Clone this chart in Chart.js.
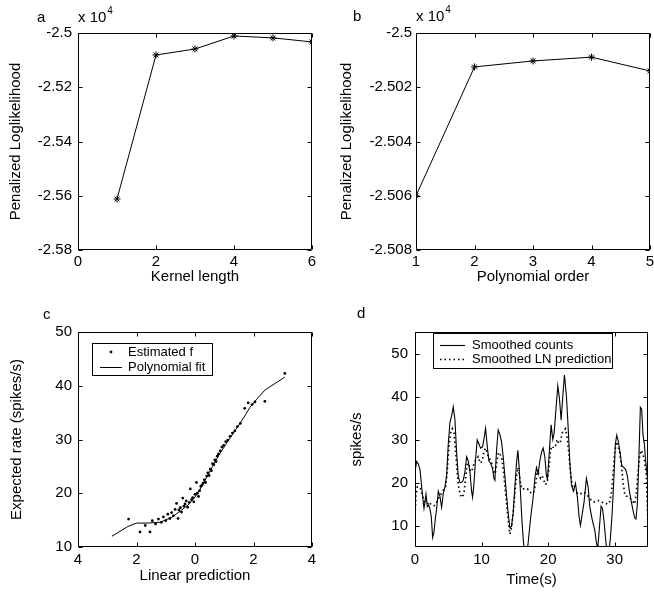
<!DOCTYPE html>
<html>
<head>
<meta charset="utf-8">
<script src="https://cdn.jsdelivr.net/npm/chart.js@4.4.0/dist/chart.umd.min.js"></script>
<style>
  html, body { margin: 0; padding: 0; background: #fff; overflow: hidden; }
  body { width: 654px; height: 597px; position: relative; }
  canvas { position: absolute; }
</style>
</head>
<body>
<canvas id="chartA" width="327" height="297" style="left:0;top:0"></canvas>
<canvas id="chartB" width="333" height="297" style="left:327px;top:0"></canvas>
<canvas id="chartC" width="327" height="300" style="left:0;top:297px"></canvas>
<canvas id="chartD" width="333" height="300" style="left:327px;top:297px"></canvas>
<script>
// a: kernel length
const kernelLength = [1, 2, 3, 4, 5, 6];
const kernelLogLik = [-2.5612, -2.5081, -2.5059, -2.5011, -2.5018, -2.5033];
const kernelXTicks = [0, 2, 4, 6];
const kernelYTicks = [-2.58, -2.56, -2.54, -2.52, -2.5];

// b: polynomial order
const polyOrder = [1, 2, 3, 4, 5];
const polyLogLik = [-2.5060, -2.50125, -2.50103, -2.50089, -2.5014];
const polyXTicks = [1, 2, 3, 4, 5];
const polyYTicks = [-2.508, -2.506, -2.504, -2.502, -2.5];

// c: estimated nonlinearity
const linPred = [-2.27, -1.88, -1.70, -1.54, -1.46, -1.35, -1.25, -1.15, -1.08, -1.00,
  -0.93, -0.86, -0.80, -0.74, -0.68, -0.63, -0.58, -0.55, -0.50, -0.46,
  -0.42, -0.38, -0.34, -0.30, -0.25, -0.20, -0.16, -0.12, -0.08, -0.04,
  0.00, 0.05, 0.08, 0.12, 0.16, 0.20, 0.24, 0.28, 0.32, 0.36,
  0.40, 0.44, 0.48, 0.52, 0.56, 0.60, 0.64, 0.68, 0.72, 0.76,
  0.80, 0.86, 0.92, 0.98, 1.05, 1.12, 1.20, 1.28, 1.36, 1.45,
  1.55, 1.70, 1.82, 1.95, 2.05, 2.39, 3.07];
const estRate = [15.2, 12.8, 14.0, 12.8, 14.9, 14.3, 15.2, 14.6, 15.6, 14.9,
  16.1, 15.3, 16.4, 15.8, 17.0, 18.1, 15.3, 16.9, 17.3, 16.5,
  19.1, 17.6, 18.0, 18.6, 17.4, 18.3, 20.8, 18.8, 19.2, 18.4,
  19.8, 22.0, 20.0, 19.4, 20.5, 21.3, 21.5, 21.9, 22.5, 22.0,
  23.2, 23.8, 23.3, 24.5, 24.2, 25.5, 25.3, 26.2, 25.9, 26.9,
  27.3, 27.9, 28.6, 28.9, 29.6, 29.9, 30.6, 31.2, 31.6, 32.4,
  33.0, 35.8, 36.8, 36.5, 37.0, 37.1, 42.3];
const fitX = [-2.84, -2.3, -2.0, -1.65, -1.2, -0.8, -0.5, -0.2, 0, 0.2, 0.4, 0.6,
  0.85, 1.08, 1.31, 1.54, 1.75, 1.88, 2.11, 2.39, 2.7, 3.07];
const fitY = [12.0, 13.8, 14.45, 14.45, 14.6, 15.5, 16.7, 18.0, 19.3, 21.0, 23.0, 25.0,
  27.4, 29.3, 31.2, 33.0, 34.8, 36.0, 37.5, 39.2, 40.3, 41.6];
const linPredTicks = [-4, -2, 0, 2, 4];
const rateTicks = [10, 20, 30, 40, 50];

// d: smoothed counts vs LN prediction
const countT = [0, 0.25, 0.5, 0.75, 1.0, 1.2, 1.35, 1.5, 1.65, 1.85, 2.05, 2.25, 2.45, 2.65, 2.85,
  3.05, 3.25, 3.5, 3.75, 4.0, 4.25, 4.5, 4.75, 5.0, 5.25, 5.5, 5.75, 6.0, 6.25, 6.5,
  6.75, 7.0, 7.25, 7.5, 7.75, 8.0, 8.25, 8.5, 8.65, 8.85, 9.1, 9.35, 9.6, 9.85, 10.15,
  10.4, 10.6, 10.85, 11.1, 11.35, 11.65, 11.85, 12.0, 12.25, 12.5, 12.75, 13.0, 13.25, 13.5, 13.75,
  14.0, 14.25, 14.5, 14.75, 15.0, 15.25, 15.45, 15.65, 15.85, 16.05, 16.25, 16.5, 16.75, 17.0, 17.25,
  17.5, 17.75, 18.0, 18.25, 18.5, 18.75, 19.0, 19.25, 19.5, 19.75, 19.9, 20.15, 20.45, 20.7, 20.9,
  21.15, 21.45, 21.7, 21.95, 22.2, 22.45, 22.75, 23.0, 23.25, 23.5, 23.8, 24.1, 24.4, 24.65, 24.85,
  25.1, 25.4, 25.75, 26.0, 26.25, 26.6, 27.0, 27.25, 27.45, 27.65, 27.95, 28.15, 28.4, 28.65, 28.85,
  29.1, 29.35, 29.6, 29.85, 30.1, 30.3, 30.55, 30.8, 31.05, 31.35, 31.65, 31.9, 32.2, 32.5, 32.75,
  33.0, 33.2, 33.4, 33.6, 33.85, 34.05, 34.25, 34.45, 34.65, 34.85, 35.0];
const countV = [22.5, 24.9, 24.3, 23.0, 19.0, 16.0, 14.0, 15.5, 17.3, 14.4, 14.8, 13.8, 12.0, 7.2, 8.5,
  11.5, 14.0, 18.0, 16.8, 14.2, 17.5, 19.0, 21.5, 29.0, 34.0, 35.5, 37.6, 34.6, 27.0, 21.5,
  20.0, 20.0, 20.5, 22.5, 26.0, 25.0, 22.5, 18.0, 16.5, 19.5, 25.5, 29.9, 29.0, 28.0, 28.3,
  30.5, 32.6, 28.5, 25.0, 24.5, 23.3, 21.0, 20.5, 27.5, 32.2, 31.2, 29.5, 26.0, 21.5, 17.0,
  12.8, 9.5, 9.8, 13.0, 19.0, 24.5, 27.5, 23.5, 17.5, 11.5, 7.0, 3.0, 2.5, 6.0, 10.0,
  13.5, 16.5, 21.0, 23.5, 22.0, 25.0, 27.0, 28.0, 26.0, 21.5, 20.8, 26.5, 33.4, 30.0, 31.5,
  36.5, 42.5, 39.5, 34.5, 40.0, 45.0, 40.0, 33.0, 25.0, 19.5, 18.0, 19.8, 16.5, 12.0, 10.0,
  12.5, 15.5, 21.0, 19.0, 14.5, 11.5, 9.0, 6.0, 4.5, 8.5, 14.5, 14.0, 11.0, 6.5, 4.0,
  3.5, 7.0, 12.5, 20.0, 29.0, 31.0, 29.5, 27.0, 24.0, 23.5, 23.0, 21.5, 18.0, 15.5, 13.5,
  11.8, 11.5, 15.0, 24.0, 37.5, 37.0, 31.0, 29.0, 25.0, 22.0, 20.5];
const lnT = [0, 0.15, 0.35, 0.6, 0.85, 1.1, 1.35, 1.6, 1.85, 2.1, 2.35, 2.6, 2.85, 3.1, 3.4,
  3.7, 4.0, 4.3, 4.6, 4.85, 5.1, 5.35, 5.6, 5.85, 6.1, 6.35, 6.6, 6.85, 7.1, 7.35,
  7.6, 7.85, 8.1, 8.35, 8.6, 8.9, 9.2, 9.5, 9.8, 10.1, 10.4, 10.65, 10.9, 11.2, 11.5,
  11.8, 12.05, 12.3, 12.55, 12.8, 13.05, 13.3, 13.55, 13.8, 14.05, 14.25, 14.5, 14.75, 15.0, 15.25,
  15.5, 15.75, 16.0, 16.3, 16.6, 16.9, 17.2, 17.5, 17.8, 18.1, 18.35, 18.6, 18.85, 19.1, 19.35,
  19.6, 19.85, 20.1, 20.35, 20.6, 20.85, 21.1, 21.35, 21.6, 21.85, 22.1, 22.35, 22.6, 22.85, 23.1,
  23.35, 23.6, 23.85, 24.1, 24.4, 24.7, 25.0, 25.3, 25.6, 25.9, 26.2, 26.5, 26.8, 27.1, 27.4,
  27.7, 28.0, 28.3, 28.6, 28.9, 29.2, 29.5, 29.75, 30.0, 30.25, 30.5, 30.75, 31.0, 31.25, 31.5,
  31.75, 32.0, 32.25, 32.5, 32.75, 33.0, 33.25, 33.5, 33.75, 34.0, 34.25, 34.5, 34.75, 35.0];
const lnV = [12.5, 17.0, 19.0, 19.0, 18.5, 17.0, 15.8, 15.2, 15.0, 15.5, 15.0, 14.6, 14.6, 15.0, 15.8,
  16.8, 17.5, 18.3, 19.0, 23.0, 28.5, 31.5, 32.5, 31.5, 27.5, 22.0, 18.5, 17.0, 16.5, 17.5,
  21.0, 24.5, 24.0, 22.5, 23.0, 24.5, 25.5, 26.0, 24.5, 25.0, 27.5, 28.0, 26.5, 25.5, 24.5,
  22.5, 22.0, 25.0, 27.0, 26.5, 25.5, 22.5, 18.5, 14.5, 10.5, 8.0, 9.5, 13.0, 17.5, 21.5,
  23.5, 21.0, 18.5, 18.5, 18.5, 18.5, 17.8, 17.5, 17.5, 19.5, 22.5, 22.0, 21.0, 21.5, 20.5,
  19.5, 20.0, 23.0, 27.5, 28.5, 28.0, 28.5, 30.0, 29.0, 29.5, 31.5, 32.0, 32.5, 30.5, 27.0,
  22.5, 19.5, 18.0, 17.8, 17.5, 17.2, 17.5, 17.8, 17.5, 17.0, 16.5, 15.8, 15.5, 15.5, 15.8,
  15.8, 15.5, 15.2, 15.2, 15.0, 15.2, 17.5, 22.0, 27.0, 29.5, 28.5, 27.0, 24.0, 20.0, 17.5,
  16.8, 16.8, 16.5, 16.0, 15.5, 15.0, 17.5, 22.5, 26.5, 27.5, 26.5, 25.0, 21.5, 10.0];
const timeTicks = [0, 10, 20, 30];
const spikeTicks = [10, 20, 30, 40, 50];

const FONT = "'Liberation Sans', Arial, Helvetica, sans-serif";

function pts(xs, ys) {
  return xs.map((x, i) => ({ x: x, y: ys[i] }));
}

function axis(min, max, ticks, fmt, o) {
  return {
    type: 'linear',
    min: min,
    max: max,
    afterBuildTicks: s => { s.ticks = ticks.map(v => ({ value: v })); },
    afterFit: s => { if (s.isHorizontal()) s.height = o.size; else s.width = o.size; },
    grid: { display: false, drawTicks: false },
    border: { display: false },
    ticks: {
      color: '#000', font: { family: FONT, size: 15 }, padding: o.pad,
      autoSkip: false, maxRotation: 0, callback: fmt
    },
    title: {
      display: true, text: o.title, color: '#000',
      font: { family: FONT, size: 15 }, padding: o.titlePad
    }
  };
}

const fmtNum = v => String(Number(v.toFixed(3)));
const fmtAbs = v => String(Math.abs(v));

// box around the plot with inward ticks on all four sides
const frame = {
  id: 'frame',
  afterDatasetsDraw(chart) {
    const ctx = chart.ctx, a = chart.chartArea, x = chart.scales.x, y = chart.scales.y;
    const L = Math.round(a.left) + 0.5, R = Math.round(a.right) - 0.5;
    const T = Math.round(a.top) + 0.5, B = Math.round(a.bottom) - 0.5;
    ctx.save();
    ctx.strokeStyle = '#000';
    ctx.lineWidth = 1;
    ctx.beginPath();
    ctx.rect(L, T, R - L, B - T);
    x.ticks.forEach(t => {
      const p = Math.round(x.getPixelForValue(t.value)) + 0.5;
      ctx.moveTo(p, B); ctx.lineTo(p, B - 4);
      ctx.moveTo(p, T); ctx.lineTo(p, T + 4);
    });
    y.ticks.forEach(t => {
      const p = Math.round(y.getPixelForValue(t.value)) + 0.5;
      ctx.moveTo(L, p); ctx.lineTo(L + 4, p);
      ctx.moveTo(R, p); ctx.lineTo(R - 4, p);
    });
    ctx.stroke();
    ctx.restore();
  }
};

// panel letter and the "x 10^4" multiplier
const notes = {
  id: 'notes',
  afterDraw(chart, args, o) {
    const ctx = chart.ctx, a = chart.chartArea;
    ctx.save();
    ctx.fillStyle = '#000';
    ctx.textAlign = 'left';
    ctx.textBaseline = 'alphabetic';
    ctx.font = '15px ' + FONT;
    ctx.fillText(o.letter, o.letterX, o.letterY);
    if (o.exponent) {
      ctx.fillText('x 10', a.left, o.letterY);
      const w = ctx.measureText('x 10').width;
      ctx.font = '10px ' + FONT;
      ctx.fillText(o.exponent, a.left + w + 1, o.letterY - 8);
    }
    ctx.restore();
  }
};

// boxed legend inside the plot
const boxLegend = {
  id: 'boxLegend',
  afterDraw(chart, args, o) {
    if (!o.box) return;
    const ctx = chart.ctx, a = chart.chartArea;
    const x0 = Math.round(a.left + o.box[0]), y0 = Math.round(a.top + o.box[1]);
    const w = o.box[2], h = o.box[3];
    ctx.save();
    ctx.fillStyle = '#fff';
    ctx.fillRect(x0, y0, w, h);
    ctx.strokeStyle = '#000';
    ctx.lineWidth = 1;
    ctx.strokeRect(x0 + 0.5, y0 + 0.5, w, h);
    ctx.font = '13px ' + FONT;
    ctx.textBaseline = 'middle';
    ctx.textAlign = 'left';
    ctx.fillStyle = '#000';
    chart.data.datasets.forEach((ds, i) => {
      const cy = y0 + o.firstRow + i * o.rowGap;
      if (ds.showLine) {
        ctx.setLineDash(ds.borderDash || []);
        ctx.lineWidth = ds.borderWidth;
        ctx.beginPath();
        ctx.moveTo(x0 + o.sample[0], cy + 0.5);
        ctx.lineTo(x0 + o.sample[1], cy + 0.5);
        ctx.stroke();
        ctx.setLineDash([]);
      } else {
        ctx.beginPath();
        ctx.arc(x0 + (o.sample[0] + o.sample[1]) / 2, cy, ds.pointRadius, 0, Math.PI * 2);
        ctx.fill();
      }
      ctx.fillText(ds.label, x0 + o.textX, cy);
    });
    ctx.restore();
  }
};

Chart.register(frame, notes, boxLegend);

function base(padTop, padRight, notesOpt, legendOpt) {
  return {
    responsive: false,
    animation: false,
    devicePixelRatio: 1,
    layout: { padding: { top: padTop, right: padRight, left: 0, bottom: 0 } },
    plugins: {
      legend: { display: false },
      tooltip: { enabled: false },
      notes: notesOpt,
      boxLegend: legendOpt || {}
    }
  };
}

const starLine = {
  showLine: true, borderColor: '#000', borderWidth: 1,
  pointStyle: 'star', pointRadius: 3.5, pointBorderColor: '#000', pointBorderWidth: 1
};

// a
new Chart(document.getElementById('chartA'), {
  type: 'scatter',
  data: { datasets: [Object.assign({ label: 'a', data: pts(kernelLength, kernelLogLik) }, starLine)] },
  options: Object.assign(base(33, 15, { letter: 'a', letterX: 37, letterY: 22, exponent: '4' }), {
    scales: {
      x: axis(0, 6, kernelXTicks, fmtNum, { size: 47, pad: 3, title: 'Kernel length', titlePad: 11 }),
      y: axis(-2.58, -2.5, kernelYTicks, fmtNum, { size: 78, pad: 6, title: 'Penalized Loglikelihood', titlePad: 7 })
    }
  })
});

// b
new Chart(document.getElementById('chartB'), {
  type: 'scatter',
  data: { datasets: [Object.assign({ label: 'b', data: pts(polyOrder, polyLogLik) }, starLine)] },
  options: Object.assign(base(33, 10, { letter: 'b', letterX: 26, letterY: 21, exponent: '4' }), {
    scales: {
      x: axis(1, 5, polyXTicks, fmtNum, { size: 47, pad: 3, title: 'Polynomial order', titlePad: 11 }),
      y: axis(-2.508, -2.5, polyYTicks, fmtNum, { size: 89, pad: 4, title: 'Penalized Loglikelihood', titlePad: 11 })
    }
  })
});

// c
new Chart(document.getElementById('chartC'), {
  type: 'scatter',
  data: {
    datasets: [
      { label: 'Estimated f', data: pts(linPred, estRate), showLine: false,
        pointRadius: 1.4, pointBorderWidth: 0, pointBackgroundColor: '#000' },
      { label: 'Polynomial fit', data: pts(fitX, fitY), showLine: true,
        borderColor: '#000', borderWidth: 1, pointRadius: 0 }
    ]
  },
  options: Object.assign(base(35, 15, { letter: 'c', letterX: 43, letterY: 22 },
    { box: [14, 11, 120, 32], firstRow: 9, rowGap: 15, sample: [8, 30], textX: 36 }), {
    scales: {
      x: axis(-4, 4, linPredTicks, fmtAbs, { size: 50, pad: 4, title: 'Linear prediction', titlePad: 12 }),
      y: axis(10, 50, rateTicks, fmtNum, { size: 78, pad: 6, title: 'Expected rate (spikes/s)', titlePad: 8 })
    }
  })
});

// d
new Chart(document.getElementById('chartD'), {
  type: 'scatter',
  data: {
    datasets: [
      { label: 'Smoothed counts', data: pts(countT, countV), showLine: true,
        borderColor: '#000', borderWidth: 1.1, pointRadius: 0 },
      { label: 'Smoothed LN prediction', data: pts(lnT, lnV), showLine: true,
        borderColor: '#000', borderWidth: 1.7, borderDash: [1.5, 3], pointRadius: 0 }
    ]
  },
  options: Object.assign(base(35, 12, { letter: 'd', letterX: 30, letterY: 21 },
    { box: [18, 1, 179, 35], firstRow: 12, rowGap: 14, sample: [7, 32], textX: 39 }), {
    scales: {
      x: axis(0, 35, timeTicks, fmtNum, { size: 50, pad: 4, title: 'Time(s)', titlePad: 8 }),
      y: axis(5, 55, spikeTicks, fmtNum, { size: 88, pad: 7, title: 'spikes/s', titlePad: 21 })
    }
  })
});
</script>
</body>
</html>
